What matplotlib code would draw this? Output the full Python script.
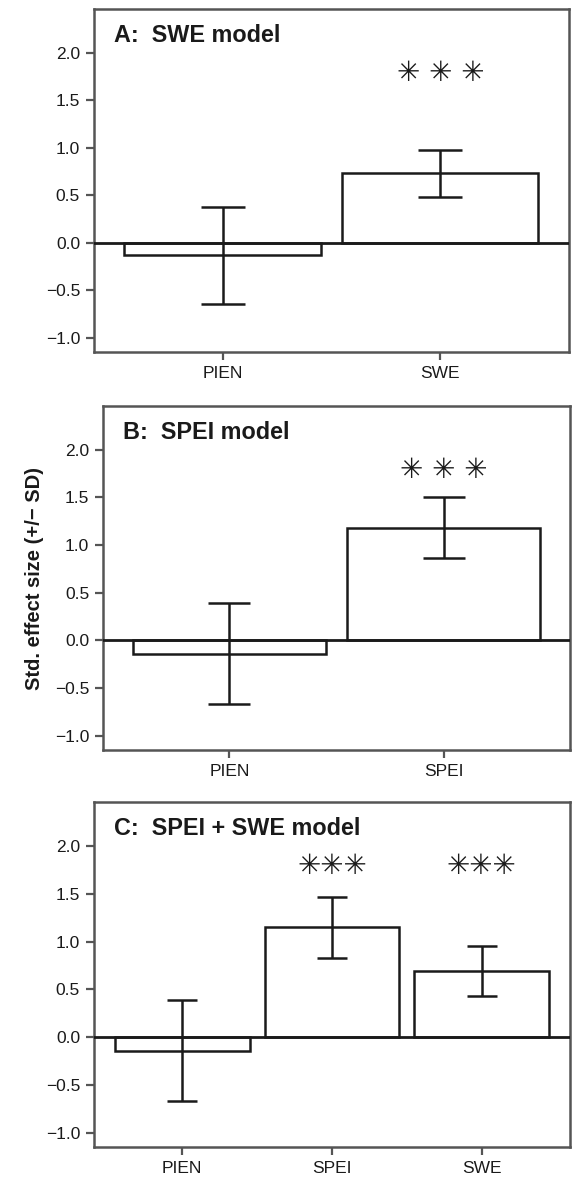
import matplotlib
matplotlib.use("Agg")
import matplotlib.pyplot as plt

plt.rcParams['font.family'] = ['Liberation Sans', 'DejaVu Sans']

# panel data: labels, means, sd, significance marks
titles = ["A:  SWE model", "B:  SPEI model", "C:  SPEI + SWE model"]
cats_a = ["PIEN", "SWE"]
mean_a = [-0.13, 0.73]
sd_a = [0.51, 0.25]
sig_a = ["", "\u2733 \u2733 \u2733"]

cats_b = ["PIEN", "SPEI"]
mean_b = [-0.14, 1.18]
sd_b = [0.53, 0.32]
sig_b = ["", "\u2733 \u2733 \u2733"]

cats_c = ["PIEN", "SPEI", "SWE"]
mean_c = [-0.14, 1.15, 0.69]
sd_c = [0.53, 0.32, 0.26]
sig_c = ["", "\u2733\u2733\u2733", "\u2733\u2733\u2733"]

yticks = [-1.0, -0.5, 0.0, 0.5, 1.0, 1.5, 2.0]
ylabel = "Std. effect size (+/\u2212 SD)"

fig = plt.figure(figsize=(5.73, 11.83), dpi=100)
positions = [
    [0.164, 0.7024, 0.829, 0.29],
    [0.1798, 0.366, 0.815, 0.2908],
    [0.164, 0.0304, 0.8308, 0.2916],
]
panels = [
    (cats_a, mean_a, sd_a, sig_a),
    (cats_b, mean_b, sd_b, sig_b),
    (cats_c, mean_c, sd_c, sig_c),
]

frame_col = "#555555"
ink = "#1a1a1a"
for i, (cats, means, sds, sigs) in enumerate(panels):
    ax = fig.add_axes(positions[i])
    x = list(range(len(cats)))
    ax.bar(x, means, width=0.9, color="white", edgecolor=ink,
           linewidth=1.8, zorder=2)
    # cap half-width of 0.1 category units, converted to points
    ax_w_px = positions[i][2] * fig.get_figwidth() * fig.dpi
    xr = len(cats) - 1 + 1.18
    cap_pt = 0.1 * ax_w_px / xr * 72 / fig.dpi
    ax.errorbar(x, means, yerr=sds, fmt="none", ecolor=ink,
                elinewidth=1.8, capsize=cap_pt, capthick=1.8, zorder=3)
    ax.axhline(0, color=ink, linewidth=2.0, zorder=4)
    for xi, s in zip(x, sigs):
        if s:
            ax.text(xi, 1.79, s, ha="center", va="center", fontsize=20,
                    family=["DejaVu Sans"], color=ink)
    ax.text(0.043, 0.924, titles[i], transform=ax.transAxes, ha="left",
            va="center", fontsize=16.8, fontweight="bold", color=ink)
    ax.set_xlim(-0.59, len(cats) - 1 + 0.59)
    ax.set_ylim(-1.15, 2.46)
    ax.set_xticks(x)
    ax.set_xticklabels(cats)
    ax.set_yticks(yticks)
    ax.set_yticklabels([f"{v:.1f}".replace("-", "\u2212") for v in yticks])
    ax.tick_params(axis="both", labelsize=12.5, length=6, width=1.6,
                   color=frame_col, labelcolor=ink, pad=4)
    for sp in ax.spines.values():
        sp.set_color(frame_col)
        sp.set_linewidth(1.8)
    if i == 1:
        ax.set_ylabel(ylabel, fontsize=14.5, fontweight="bold",
                      color=ink, labelpad=8)

fig.savefig("out.png", dpi=100)
